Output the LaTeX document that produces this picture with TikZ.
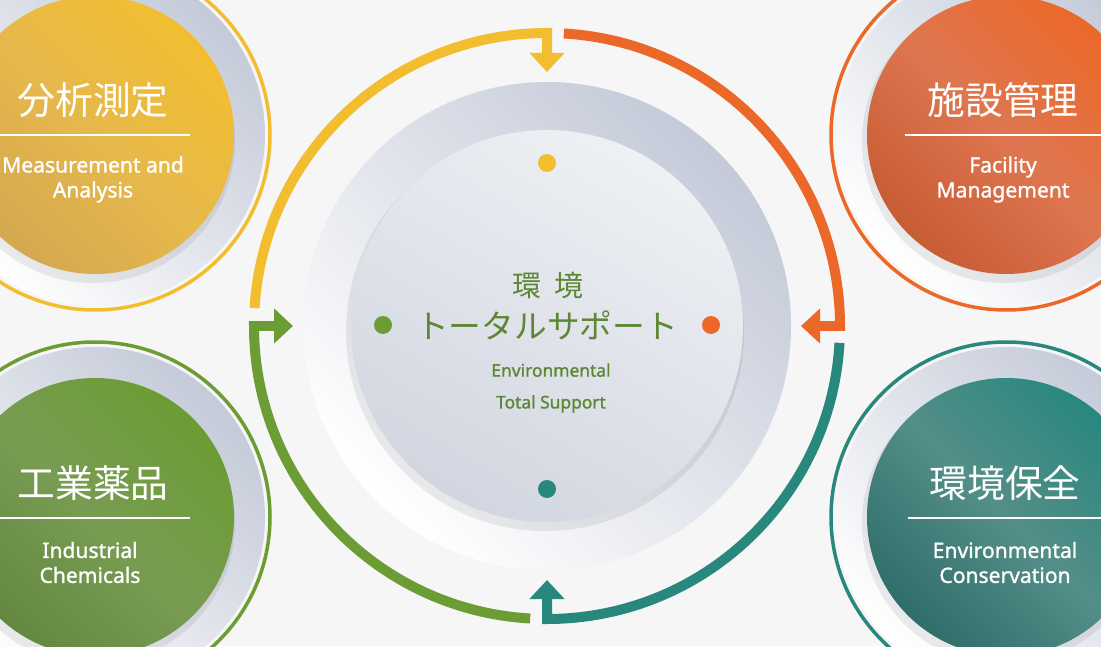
\documentclass[tikz,border=0pt]{standalone}
\usepackage{fontspec}
\setmainfont{Noto Sans}
\newfontfamily\enfont{Noto Sans}[FakeBold=1.2]
\newfontfamily\jpfont{Noto Sans CJK JP}
\usepackage{xcolor}
\definecolor{bgGray}{RGB}{246,246,246}
\definecolor{bandGray}{RGB}{196,202,216}
\definecolor{discTop}{RGB}{238,240,244}
\definecolor{discGray}{RGB}{210,214,224}
\definecolor{yellowRing}{RGB}{242,190,48}
\definecolor{yellowMid}{RGB}{230,184,76}
\definecolor{yellowDisc}{RGB}{212,168,80}
\definecolor{orangeRing}{RGB}{236,104,40}
\definecolor{orangeMid}{RGB}{222,118,80}
\definecolor{orangeDisc}{RGB}{200,92,52}
\definecolor{greenRing}{RGB}{108,156,52}
\definecolor{greenMid}{RGB}{120,156,82}
\definecolor{greenDisc}{RGB}{100,136,64}
\definecolor{tealRing}{RGB}{40,136,126}
\definecolor{tealMid}{RGB}{84,142,136}
\definecolor{tealDisc}{RGB}{48,110,106}
\definecolor{textGreen}{RGB}{92,136,52}
\usetikzlibrary{arrows.meta, calc}

\begin{document}
\begin{tikzpicture}[x=0.02cm, y=0.02cm,
  ring/.style={line width=0.2cm, -{Triangle[width=0.68cm, length=0.38cm]}},
  dot/.style={circle, inner sep=0pt, minimum size=0.36cm},
  band/.style={top color=bandGray, bottom color=white, shading angle=-45},
  shadow/.style={black, opacity=0.07},
  jp/.style={font=\jpfont\fontsize{21.5}{25}\selectfont, text=white},
  en/.style={font=\enfont\fontsize{12}{14.2}\selectfont, text=white, align=center},
  sep/.style={draw=white, line width=0.8pt},
  mid/.style={text=textGreen}
]
  \useasboundingbox (0,0) rectangle (1101,646);
  \clip (0,0) rectangle (1101,646);
  \fill[bgGray] (0,0) rectangle (1101,646);

  % corner circles
  \coordinate (tl) at (95,511);
  \coordinate (tr) at (1006,511);
  \coordinate (bl) at (95,129);
  \coordinate (br) at (1006,129);

  \draw[yellowRing, line width=0.07cm] (tl) circle (175);
  \shade[band] (tl) circle (170);
  \fill[shadow] ($(tl)+(-2,-6)$) circle (142);
  \shade[top color=yellowRing, bottom color=yellowDisc, middle color=yellowMid, shading angle=-45] (tl) circle (139);
  \node[jp] (bunseki) at (93,546) {分析測定};
  \draw[sep] (0,511) -- (190,511);
  \node[en] (bunsekiEn) at (93,466.5) {Measurement and\\Analysis};

  \draw[orangeRing, line width=0.07cm] (tr) circle (175);
  \shade[band] (tr) circle (170);
  \fill[shadow] ($(tr)+(-2,-6)$) circle (142);
  \shade[top color=orangeRing, bottom color=orangeDisc, middle color=orangeMid, shading angle=-45] (tr) circle (139);
  \node[jp] (shisetsu) at (1003,546) {施設管理};
  \draw[sep] (905,511) -- (1101,511);
  \node[en] (shisetsuEn) at (1003,466.5) {Facility\\Management};

  \draw[greenRing, line width=0.07cm] (bl) circle (175);
  \shade[band] (bl) circle (170);
  \fill[shadow] ($(bl)+(-2,-6)$) circle (142);
  \shade[top color=greenRing, bottom color=greenDisc, middle color=greenMid, shading angle=-45] (bl) circle (139);
  \node[jp] (kogyo) at (93,163) {工業薬品};
  \draw[sep] (0,128) -- (190,128);
  \node[en] (kogyoEn) at (90,83.5) {Industrial\\Chemicals};

  \draw[tealRing, line width=0.07cm] (br) circle (175);
  \shade[band] (br) circle (170);
  \fill[shadow] ($(br)+(-2,-6)$) circle (142);
  \shade[top color=tealRing, bottom color=tealDisc, middle color=tealMid, shading angle=-45] (br) circle (139);
  \node[jp] (hozen) at (1005,163) {環境保全};
  \draw[sep] (908,128) -- (1101,128);
  \node[en] (hozenEn) at (1005,83.5) {Environmental\\Conservation};

  % center
  \coordinate (c) at (547,320);
  \shade[band] (c) circle (244);
  \fill[shadow] ($(c)+(-2,-6)$) circle (199);
  \shade[top color=discTop, bottom color=discGray, shading angle=-30] (c) circle (196);

  \draw[ring, yellowRing] (c) ++(176.5:293) arc[start angle=176.5, end angle=90, radius=293] -- ++(0,-39);
  \draw[ring, orangeRing] (c) ++(86.7:293) arc[start angle=86.7, end angle=0, radius=293] -- ++(-39,0);
  \draw[ring, tealRing] (c) ++(-3.3:293) arc[start angle=-3.3, end angle=-90, radius=293] -- ++(0,39);
  \draw[ring, greenRing] (c) ++(-93.3:293) arc[start angle=-93.3, end angle=-180, radius=293] -- ++(39,0);

  \node[dot, fill=yellowRing] (dotTop) at (547,483) {};
  \node[dot, fill=greenRing] (dotLeft) at (383,321) {};
  \node[dot, fill=orangeRing] (dotRight) at (711,321) {};
  \node[dot, fill=tealRing] (dotBottom) at (547,157) {};

  \node[mid, font=\jpfont\fontsize{16.5}{19}\selectfont] (kankyo) at (548,361) {環\hspace{0.45em}境};
  \node[mid, font=\jpfont\fontsize{18.6}{22}\selectfont] (support) at (547,321) {トータルサポート};
  \node[mid, font=\enfont\fontsize{9.9}{18.1}\selectfont, align=center] (supportEn) at (551,258) {Environmental\\Total Support};
\end{tikzpicture}
\end{document}
